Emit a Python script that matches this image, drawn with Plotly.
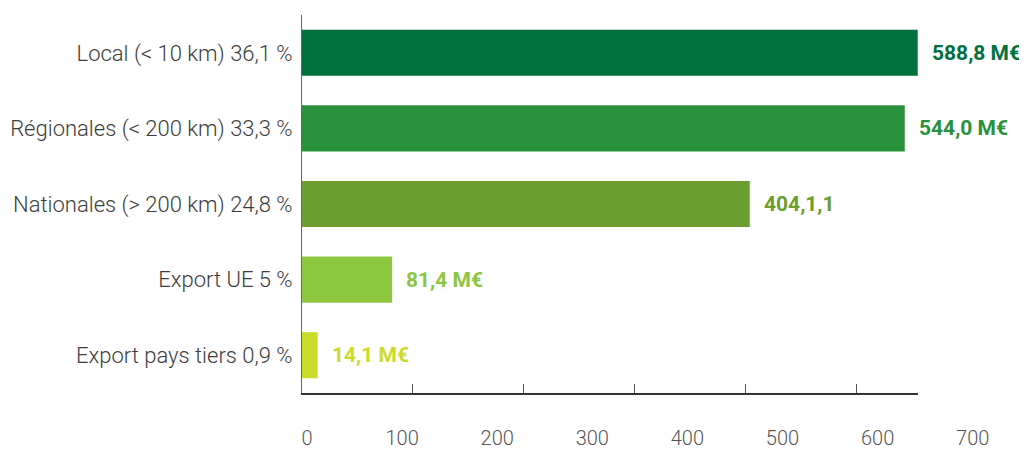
import plotly.graph_objects as go

categories = [
    "Local (< 10 km) 36,1 %",
    "Régionales (< 200 km) 33,3 %",
    "Nationales (> 200 km) 24,8 %",
    "Export UE 5 %",
    "Export pays tiers 0,9 %",
]
values = [588.8, 544.0, 404.1, 81.4, 14.1]
value_labels = ["588,8 M€", "544,0 M€", "404,1,1", "81,4 M€", "14,1 M€"]
bar_colors = ["#00703C", "#2A913D", "#6C9D31", "#8DC63F", "#CBDB2A"]
axis_ticks = [0, 100, 200, 300, 400, 500]
label_ticks = [0, 100, 200, 300, 400, 500, 600, 700]
label_tick_text = ["0", "100", "200", "300", "400", "500", "600", "700"]

W, H = 1027, 449
# the page body adds an 8px offset, so figure coords = screen coords - 8
ML, MR, MT, MB = 293.7, 28, 7, 64
plot_w = W - ML - MR
bar_axis_px = 616
x_max = 555.7
lab_px_per_unit = 0.9514
lab_offset_px = 5.0
x2_min = -lab_offset_px / lab_px_per_unit
x2_max = x2_min + plot_w / lab_px_per_unit

fig = go.Figure()
fig.add_trace(go.Bar(
    x=values, y=categories, orientation="h",
    marker=dict(color=bar_colors, line=dict(width=0)),
    hoverinfo="x+y", showlegend=False,
))
# invisible helper trace so the label axis is drawn
fig.add_trace(go.Scatter(
    x=[label_ticks[0], label_ticks[-1]], y=[categories[-1], categories[-1]],
    xaxis="x2", yaxis="y", mode="markers", marker=dict(opacity=0),
    hoverinfo="skip", showlegend=False,
))

for v, lab, col, cat in zip(values, value_labels, bar_colors, categories):
    fig.add_annotation(
        x=min(v, x_max), y=cat, xref="x", yref="y",
        text=lab, showarrow=False, xanchor="left", yanchor="middle",
        xshift=12,
        font=dict(family="Roboto", size=21, color=col, weight="bold"),
    )

fig.update_layout(
    width=W, height=H,
    margin=dict(l=ML, r=MR, t=MT, b=MB, autoexpand=False),
    plot_bgcolor="rgba(0,0,0,0)", paper_bgcolor="white",
    bargap=0.39,
    xaxis=dict(
        domain=[0, bar_axis_px / plot_w], range=[0, x_max],
        showgrid=False, zeroline=False,
        showline=True, linecolor="#333333", linewidth=1.5,
        ticks="inside", ticklen=9, tickwidth=1.2, tickcolor="#555555",
        tickvals=axis_ticks, showticklabels=False, automargin=False,
        fixedrange=True,
    ),
    xaxis2=dict(
        domain=[0, 1], range=[x2_min, x2_max], anchor="y",
        showgrid=False, zeroline=False, showline=False, ticks="",
        tickvals=label_ticks, ticktext=label_tick_text,
        ticklabelstandoff=31,
        tickfont=dict(family="Roboto", size=20, color="#555555", weight=300),
        automargin=False,
    ),
    yaxis=dict(
        categoryorder="array", categoryarray=categories, autorange="reversed",
        showgrid=False, zeroline=False,
        showline=True, linecolor="#666666", linewidth=1,
        ticks="", ticklabelstandoff=4,
        tickfont=dict(family="Roboto", size=22, color="#3c3c3c", weight=300),
        automargin=False,
    ),
)

fig.write_html("out.html")
